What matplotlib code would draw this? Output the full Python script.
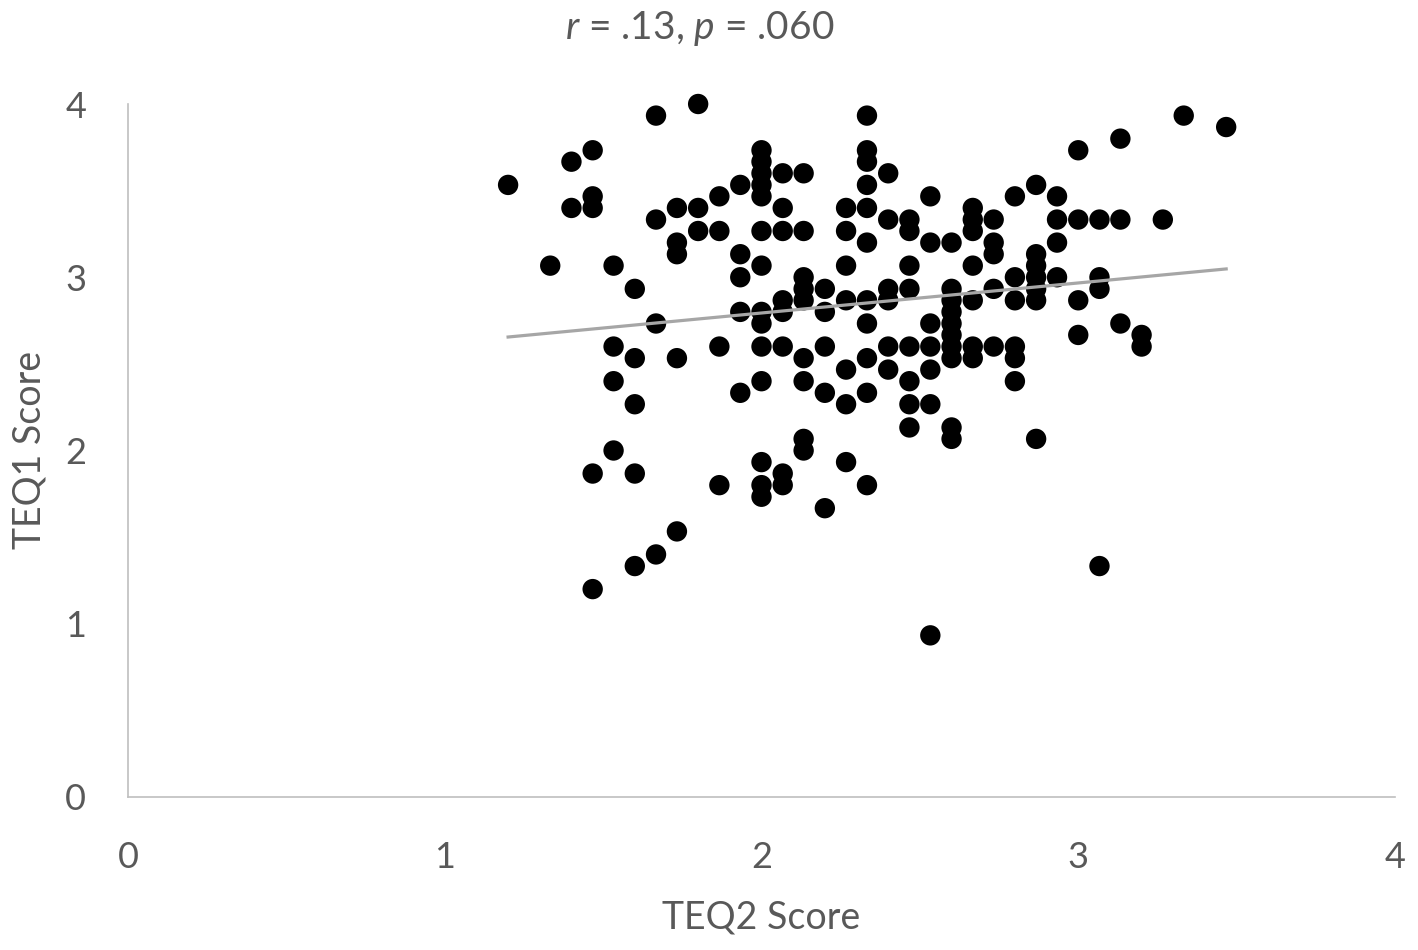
import numpy as np
import matplotlib
matplotlib.use("Agg")
import matplotlib.pyplot as plt

plt.rcParams['font.family'] = ['Lato', 'DejaVu Sans']
plt.rcParams['mathtext.fontset'] = 'custom'
plt.rcParams['mathtext.rm'] = 'Lato'
plt.rcParams['mathtext.it'] = 'Lato:italic'

# Data, grouped by TEQ2 column
teq2 = ([1.2] + [1.333] + [1.4]*2 + [1.467]*5 + [1.533]*4 + [1.6]*5 + [1.667]*4 +
        [1.733]*5 + [1.8]*3 + [1.867]*4 + [1.933]*5 + [2.0]*14 + [2.067]*8 +
        [2.133]*9 + [2.2]*5 + [2.267]*7 + [2.333]*11 + [2.4]*6 + [2.467]*8 +
        [2.533]*7 + [2.6]*10 + [2.667]*7 + [2.733]*5 + [2.8]*6 + [2.867]*7 +
        [2.933]*4 + [3.0]*4 + [3.067]*4 + [3.133]*3 + [3.2]*2 + [3.267] +
        [3.333] + [3.467])
teq1 = [3.533,
        3.067,
        3.667, 3.4,
        3.733, 3.467, 3.4, 1.867, 1.2,
        3.067, 2.6, 2.4, 2.0,
        2.933, 2.533, 2.267, 1.867, 1.333,
        3.933, 3.333, 2.733, 1.4,
        3.4, 3.2, 3.133, 2.533, 1.533,
        4.0, 3.4, 3.267,
        3.467, 3.267, 2.6, 1.8,
        3.533, 3.133, 3.0, 2.8, 2.333,
        3.733, 3.667, 3.6, 3.533, 3.467, 3.267, 3.067, 2.8, 2.733, 2.6, 2.4, 1.933, 1.8, 1.733,
        3.6, 3.4, 3.267, 2.867, 2.8, 2.6, 1.867, 1.8,
        3.6, 3.267, 3.0, 2.933, 2.867, 2.533, 2.4, 2.067, 2.0,
        2.933, 2.8, 2.6, 2.333, 1.667,
        3.4, 3.267, 3.067, 2.867, 2.467, 2.267, 1.933,
        3.933, 3.733, 3.667, 3.533, 3.4, 3.2, 2.867, 2.733, 2.533, 2.333, 1.8,
        3.6, 3.333, 2.933, 2.867, 2.6, 2.467,
        3.333, 3.267, 3.067, 2.933, 2.6, 2.4, 2.267, 2.133,
        3.467, 3.2, 2.733, 2.6, 2.467, 2.267, 0.933,
        3.2, 2.933, 2.867, 2.8, 2.733, 2.667, 2.6, 2.533, 2.133, 2.067,
        3.4, 3.333, 3.267, 3.067, 2.867, 2.6, 2.533,
        3.333, 3.2, 3.133, 2.933, 2.6,
        3.467, 3.0, 2.867, 2.6, 2.533, 2.4,
        3.533, 3.133, 3.067, 3.0, 2.933, 2.867, 2.067,
        3.467, 3.333, 3.2, 3.0,
        3.733, 3.333, 2.867, 2.667,
        3.333, 3.0, 2.933, 1.333,
        3.8, 3.333, 2.733,
        2.667, 2.6,
        3.333,
        3.933,
        3.867]

# Linear trendline
trend_x = [1.2, 3.467]
trend_y = [2.655, 3.048]

x_ticks = [0, 1, 2, 3, 4]
y_ticks = [0, 1, 2, 3, 4]
title_text = r"$\mathit{r}$ = .13, $\mathit{p}$ = .060"
x_label = "TEQ2 Score"
y_label = "TEQ1 Score"

grey = '#595959'
fig = plt.figure(figsize=(14.18, 9.5), dpi=100)
ax = fig.add_axes([128/1418, 1-797/950, (1395-128)/1418, (797-104)/950])

ax.scatter(teq2, teq1, s=215, color='black', edgecolors='none', zorder=3,
           clip_on=False)
ax.plot(trend_x, trend_y, color='#a6a6a6', lw=2.3, zorder=4)

ax.set_xlim(0, 4)
ax.set_ylim(0, 4)
ax.set_xticks(x_ticks)
ax.set_yticks(y_ticks)
ax.tick_params(length=0, labelsize=26, labelcolor=grey)
ax.tick_params(axis='x', pad=32)
ax.tick_params(axis='y', pad=30)
for s in ['top', 'right']:
    ax.spines[s].set_visible(False)
for s in ['left', 'bottom']:
    ax.spines[s].set_color('#bfbfbf')
    ax.spines[s].set_linewidth(1.2)

ax.set_xlabel(x_label, fontsize=27, color=grey, va='center')
ax.xaxis.set_label_coords((761-128)/1267, (797-917)/693)
ax.set_ylabel(y_label, fontsize=27, color=grey, va='center')
ax.yaxis.set_label_coords((30-128)/1267, (797-450)/693)
fig.text(700/1418, 1-28/950, title_text, fontsize=28, color=grey,
         ha='center', va='center')

fig.savefig("out.png", dpi=100)
